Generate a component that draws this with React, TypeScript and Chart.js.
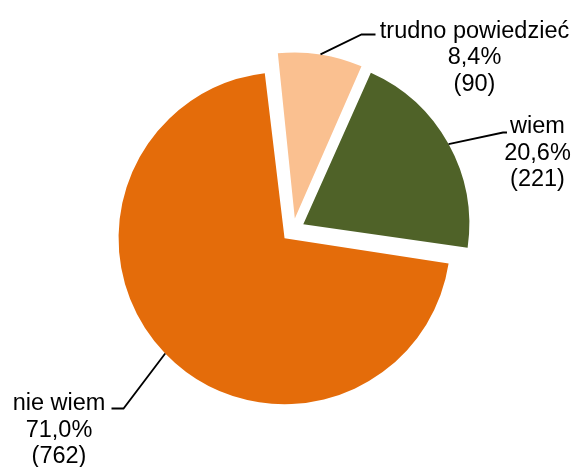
import React, { useEffect, useRef } from "react";
import { Chart, registerables } from "chart.js";

Chart.register(...registerables);

// ---- data ----
const categories = ["wiem", "nie wiem", "trudno powiedzieć"];
const counts = [221, 762, 90];
const colors = ["#4F6228", "#E46C0A", "#FAC090"];

// ---- layout / style ----
const W = 575;
const H = 467;
const RADIUS = 166;
const EXPLODE = 47; // Chart.js draws arc offset at 1/4 of this value
const START_ANGLE = 24;
const FONT = '23.5px "Liberation Sans", Arial, sans-serif';
const LINE_PITCH = 26.5;

// label placement: text centre x, first baseline, leader elbow, leader end
const labelLayout = [
  { cx: 537.5, top: 133, elbow: [503, 132.5], end: [507, 132.5] },
  { cx: 59, top: 410, elbow: [123.5, 408.5], end: [111.5, 408.5] },
  { cx: 474.5, top: 37.5, elbow: [361.5, 34.5], end: [375.5, 34.5] },
];

export default function App() {
  const ref = useRef<HTMLCanvasElement>(null);

  useEffect(() => {
    const total = counts.reduce((a, b) => a + b, 0);

    // keep all exploded slices at the same radius
    const radiusFix = {
      id: "radiusFix",
      afterDatasetUpdate(chart: any, args: any) {
        const meta = chart.getDatasetMeta(args.index);
        meta.data.forEach((el: any) => {
          const o = EXPLODE / 4;
          const fix = 1 - Math.sin(Math.min(Math.PI, el.circumference || 0));
          el.outerRadius = el.outerRadius - o * fix;
        });
      },
    };

    const pieLabels = {
      id: "pieLabels",
      afterDatasetsDraw(chart: any) {
        const ctx = chart.ctx as CanvasRenderingContext2D;
        const meta = chart.getDatasetMeta(0);
        ctx.save();
        meta.data.forEach((el: any, i: number) => {
          const mid = (el.startAngle + el.endAngle) / 2;
          const o = EXPLODE / 4;
          const cx = el.x + Math.cos(mid) * o;
          const cy = el.y + Math.sin(mid) * o;
          const r = el.outerRadius + o * (1 - Math.sin(Math.min(Math.PI, el.circumference || 0)));
          const sx = cx + Math.cos(mid) * r;
          const sy = cy + Math.sin(mid) * r;
          const lay = labelLayout[i];
          ctx.strokeStyle = "#000";
          ctx.lineWidth = 1.8;
          ctx.beginPath();
          ctx.moveTo(sx, sy);
          ctx.lineTo(lay.elbow[0], lay.elbow[1]);
          ctx.lineTo(lay.end[0], lay.end[1]);
          ctx.stroke();

          const pct = ((counts[i] / total) * 100).toFixed(1).replace(".", ",") + "%";
          const lines = [categories[i], pct, "(" + counts[i] + ")"];
          ctx.fillStyle = "#000";
          ctx.font = FONT;
          ctx.textAlign = "center";
          ctx.textBaseline = "alphabetic";
          lines.forEach((t, k) => {
            ctx.fillText(t, lay.cx, lay.top + k * LINE_PITCH);
          });
        });
        ctx.restore();
      },
    };

    const chart = new Chart(ref.current as HTMLCanvasElement, {
      type: "pie",
      data: {
        labels: categories,
        datasets: [
          {
            data: counts,
            backgroundColor: colors,
            borderWidth: 0,
            offset: EXPLODE,
            hoverOffset: 0,
            radius: RADIUS,
          } as any,
        ],
      },
      options: {
        responsive: false,
        animation: false,
        events: [],
        rotation: START_ANGLE,
        layout: { padding: { left: 11, right: 0, top: 0, bottom: 7 } },
        plugins: {
          legend: { display: false },
          tooltip: { enabled: false },
        },
      } as any,
      plugins: [radiusFix, pieLabels],
    });
    return () => chart.destroy();
  }, []);

  return (
    <div style={{ position: "absolute", left: 0, top: 0, width: W, height: H, background: "#fff" }}>
      <canvas ref={ref} width={W} height={H} style={{ display: "block", width: W, height: H }} />
    </div>
  );
}
